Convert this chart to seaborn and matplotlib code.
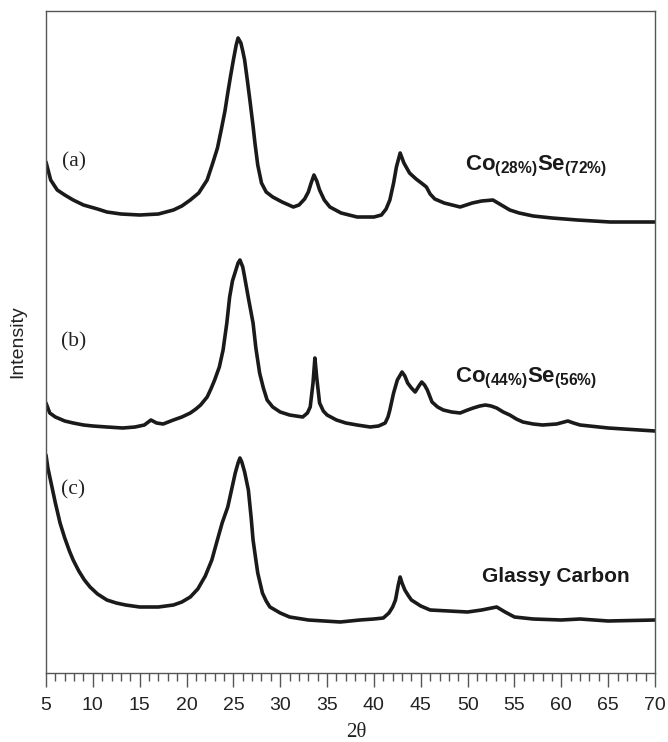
import matplotlib
matplotlib.use("Agg")
import matplotlib.pyplot as plt
import seaborn as sns
import pandas as pd
from matplotlib.ticker import MultipleLocator

# ---- data (2θ, intensity in arbitrary units, curves offset) ----
two_theta_a = [5.0, 5.5, 6.2, 7.0, 7.9, 9.0, 10.5, 11.5, 13.0, 15.0, 17.0, 18.6, 19.5, 20.4,
               21.3, 22.2, 22.8, 23.3, 23.7, 24.1, 24.4, 24.7, 25.0, 25.3, 25.5, 25.8, 26.0,
               26.2, 26.5, 26.8, 27.1, 27.3, 27.6, 28.0, 28.5, 29.2, 30.2, 31.4, 32.0, 32.6,
               33.0, 33.3, 33.6, 33.9, 34.2, 34.7, 35.3, 36.5, 38.2, 40.0, 40.8, 41.3, 41.7,
               42.1, 42.4, 42.8, 43.2, 43.8, 44.5, 45.2, 45.6, 46.0, 46.5, 47.5, 49.2, 50.5,
               51.5, 52.7, 53.6, 54.5, 55.5, 57.0, 59.0, 61.7, 65.2, 70.0]
intensity_a = [511, 493, 483, 478, 473, 468, 464, 461, 459, 458, 459, 463, 467, 473,
               480, 493, 510, 525, 543, 562, 580, 597, 613, 628, 635, 630, 622,
               613, 592, 570, 547, 530, 508, 490, 481, 476, 471, 466, 468, 474,
               481, 490, 498, 492, 483, 473, 466, 460, 456, 456, 458, 464, 473,
               490, 506, 520, 510, 500, 494, 489, 486, 479, 474, 470, 466, 470,
               472, 473, 468, 463, 460, 457, 455, 453, 451, 451]

two_theta_b = [5.0, 5.2, 5.4, 6.0, 7.0, 7.9, 9.0, 10.0, 11.5, 13.2, 14.5, 15.5, 16.2, 16.8,
               17.5, 18.6, 19.5, 20.4, 21.0, 21.5, 22.2, 22.6, 23.0, 23.5, 23.9, 24.3, 24.6,
               24.9, 25.2, 25.5, 25.7, 26.0, 26.2, 26.6, 27.1, 27.4, 27.8, 28.2, 28.6, 29.2,
               30.0, 31.0, 32.4, 32.9, 33.2, 33.5, 33.7, 33.9, 34.2, 34.6, 35.0, 36.0, 37.0,
               38.2, 39.6, 40.5, 41.2, 41.5, 41.7, 42.1, 42.5, 43.0, 43.3, 43.6, 44.0, 44.4,
               44.8, 45.1, 45.4, 45.7, 46.2, 46.8, 47.4, 48.3, 49.2, 50.0, 50.6, 51.3, 51.9,
               52.5, 53.1, 53.8, 54.5, 55.2, 55.9, 57.0, 58.0, 59.5, 60.7, 61.3, 62.0, 65.0, 70.0]
intensity_b = [270, 265, 260, 256, 252, 250, 248, 247, 246, 245, 246, 248, 253, 250,
               249, 253, 256, 260, 264, 268, 276, 284, 293, 306, 323, 350, 376,
               392, 401, 410, 413, 406, 396, 375, 350, 325, 300, 285, 273, 266,
               261, 258, 256, 260, 266, 290, 315, 295, 270, 262, 258, 253, 250,
               248, 246, 247, 250, 256, 263, 280, 293, 301, 297, 290, 285, 281,
               287, 291, 288, 283, 271, 266, 263, 261, 260, 263, 265, 267, 268,
               267, 265, 261, 258, 254, 251, 249, 248, 249, 252, 250, 248, 245, 242]

two_theta_c = [5.0, 5.2, 5.5, 6.0, 6.5, 7.0, 7.5, 7.9, 8.5, 9.1, 9.7, 10.5, 11.5, 12.5,
               13.5, 15.0, 17.0, 18.6, 19.5, 20.4, 21.2, 22.0, 22.7, 23.2, 23.8, 24.4, 24.8,
               25.2, 25.5, 25.7, 25.9, 26.2, 26.6, 26.9, 27.1, 27.4, 27.6, 28.1, 28.5, 28.9,
               30.0, 31.0, 33.0, 36.4, 38.5, 40.0, 41.0, 41.6, 42.0, 42.3, 42.6, 42.8, 43.0,
               43.3, 43.7, 44.0, 45.0, 46.0, 48.0, 50.0, 51.5, 53.1, 54.0, 55.0, 57.0, 60.0,
               62.0, 65.0, 70.0]
intensity_c = [218, 205, 192, 170, 150, 135, 122, 113, 102, 93, 86, 79, 73, 70,
               68, 66, 66, 68, 71, 76, 84, 97, 113, 130, 150, 166, 183,
               200, 210, 215, 211, 201, 183, 155, 133, 113, 100, 80, 72, 66,
               60, 56, 53, 51, 53, 54, 55, 60, 66, 73, 88, 96, 90,
               83, 77, 73, 67, 63, 62, 61, 63, 66, 61, 56, 54, 53,
               54, 52, 53]

panel_labels = ["(a)", "(b)", "(c)"]
sample_labels = [r"$\mathbf{Co}_{\mathbf{(28\%)}}\mathbf{Se}_{\mathbf{(72\%)}}$",
                 r"$\mathbf{Co}_{\mathbf{(44\%)}}\mathbf{Se}_{\mathbf{(56\%)}}$",
                 "Glassy Carbon"]
x_ticks = [5, 10, 15, 20, 25, 30, 35, 40, 45, 50, 55, 60, 65, 70]

# ---- styling ----
sns.set_style("white")
plt.rcParams["font.family"] = ["Liberation Sans", "DejaVu Sans"]
plt.rcParams["mathtext.fontset"] = "custom"
plt.rcParams["mathtext.rm"] = "Liberation Sans"
plt.rcParams["mathtext.bf"] = "Liberation Sans:bold"

fig = plt.figure(figsize=(6.68, 7.42), dpi=100)
ax = fig.add_axes([46 / 668, 69 / 742, 609 / 668, 662 / 742])

curves = [(two_theta_a, intensity_a), (two_theta_b, intensity_b), (two_theta_c, intensity_c)]
for tt, inten in curves:
    df = pd.DataFrame({"2θ": tt, "Intensity": inten})
    sns.lineplot(data=df, x="2θ", y="Intensity", ax=ax, color="#1a1a1a",
                 linewidth=2.6, estimator=None, sort=True)

ax.set_xlim(5, 70)
ax.set_ylim(0, 662)
ax.set_xticks(x_ticks)
ax.xaxis.set_minor_locator(MultipleLocator(1))
ax.set_yticks([])
ax.tick_params(axis="x", which="major", direction="out", length=10, width=1,
               color="#555555", labelsize=14, labelcolor="#222222", pad=7, bottom=True)
ax.tick_params(axis="x", which="minor", direction="out", length=6, width=1,
               color="#555555", bottom=True)
for sp in ax.spines.values():
    sp.set_visible(True)
    sp.set_color("#555555")
    sp.set_linewidth(1.0)

ax.set_xlabel("2θ", family=["Liberation Serif", "DejaVu Serif"], fontsize=15, color="#222222")
ax.xaxis.set_label_coords(0.509, -0.076)
ax.set_ylabel("Intensity", fontsize=14, color="#222222")
ax.yaxis.set_label_coords(-0.033, 0.5)

# panel letters
serif = ["Liberation Serif", "DejaVu Serif"]
ax.text(8.0, 511, panel_labels[0], family=serif, fontsize=15.5, ha="center", va="center", color="#222222")
ax.text(8.0, 331, panel_labels[1], family=serif, fontsize=15.5, ha="center", va="center", color="#222222")
ax.text(7.9, 183, panel_labels[2], family=serif, fontsize=15.5, ha="center", va="center", color="#222222")

# sample labels
ax.text(49.7, 503, sample_labels[0], fontsize=16, ha="left", va="baseline", color="#1a1a1a")
ax.text(48.65, 291, sample_labels[1], fontsize=16, ha="left", va="baseline", color="#1a1a1a")
ax.text(51.5, 91, sample_labels[2], fontsize=15, fontweight="bold", ha="left", va="baseline",
        color="#1a1a1a")

fig.savefig("out.png", dpi=100)
